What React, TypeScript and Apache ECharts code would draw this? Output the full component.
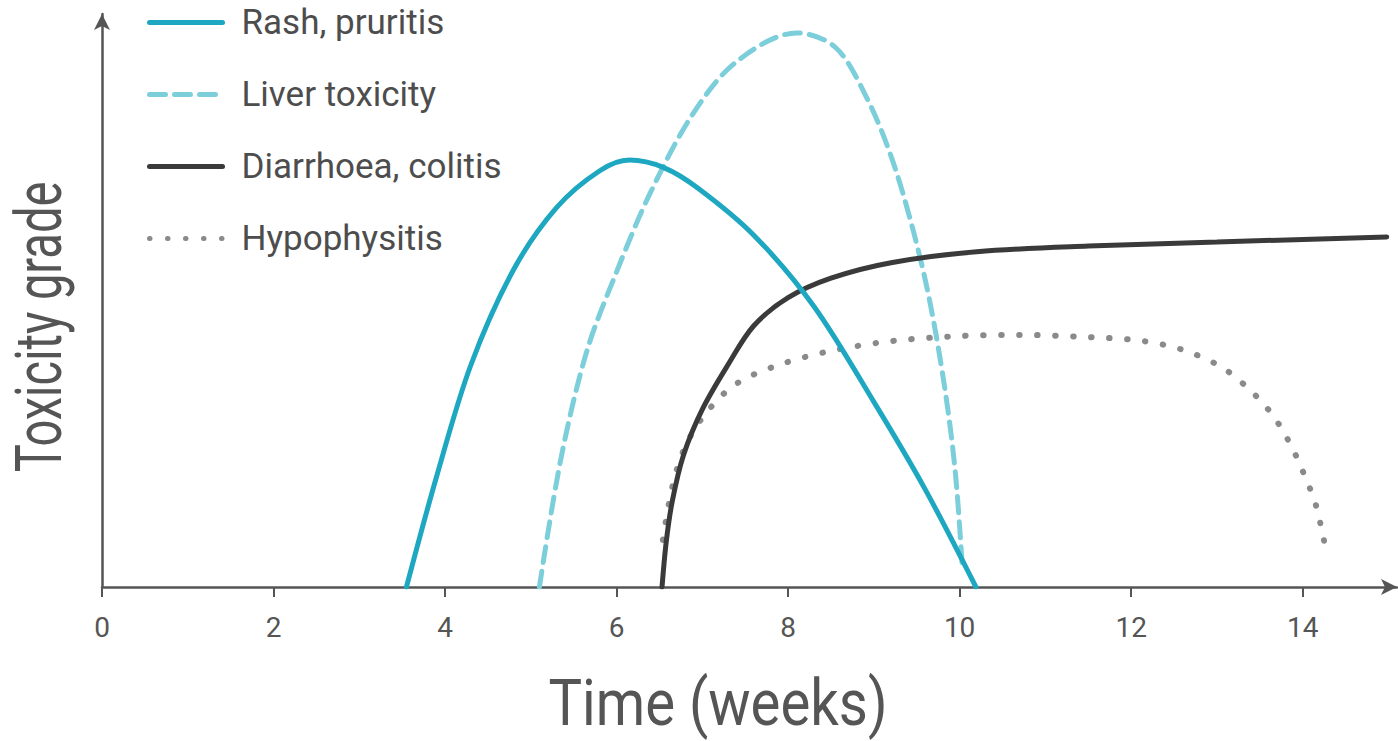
import React, { useEffect, useRef } from "react";
import * as echarts from "echarts";

const weekTicks = [0, 2, 4, 6, 8, 10, 12, 14];
const seriesNames = ["Rash, pruritis", "Liver toxicity", "Diarrhoea, colitis", "Hypophysitis"];
const xTitle = "Time (weeks)";
const yTitle = "Toxicity grade";

const rashWeeks = [3.55, 3.9, 4.3, 4.8, 5.3, 5.8, 6.15, 6.55, 6.95, 7.6, 8.3, 9.0, 9.6, 10.19];
const rashGrade = [0, 19.2, 38.7, 55.4, 66.2, 72.6, 74.5, 73.2, 69.6, 61.4, 49.0, 32.3, 17.0, 0];

const liverWeeks = [5.1, 5.35, 5.65, 6.0, 6.4, 6.9, 7.4, 8.1, 8.55, 8.9, 9.2, 9.45, 9.65, 9.83, 9.95, 10.03];
const liverGrade = [0, 22.3, 41.0, 55.0, 69.0, 82.8, 91.7, 96.7, 94.2, 85.9, 75.2, 62.7, 50.0, 34.4, 20.0, 3.8];

const diarrhoeaWeeks = [6.53, 6.58, 6.65, 6.78, 7.0, 7.3, 7.6, 8.0, 8.5, 9.2, 10.2, 11.5, 13.0, 14.98];
const diarrhoeaGrade = [0, 8.0, 15.0, 23.0, 31.0, 38.8, 45.6, 50.5, 53.9, 56.6, 58.5, 59.5, 60.2, 61.1];

const hypoWeeks = [6.54, 6.65, 6.8, 7.05, 7.4, 7.9, 8.5, 9.2, 10.0, 10.7, 11.5, 12.1, 12.6, 13.05, 13.37, 13.64, 13.85, 14.01, 14.15, 14.24, 14.28];
const hypoGrade = [8.2, 17.5, 24.5, 30.5, 35.5, 38.8, 41.2, 42.9, 43.8, 44.0, 43.6, 43.0, 41.4, 38.4, 34.6, 30.2, 25.1, 19.9, 14.5, 8.7, 5.9];

const pairs = (xs: number[], ys: number[]) => xs.map((x, i) => [x, ys[i]]);

export default function App() {
  const ref = useRef<HTMLDivElement>(null);
  useEffect(() => {
    if (!ref.current) return;
    const chart = echarts.init(ref.current, undefined, { renderer: "svg" });
    const axisColor = "#555555";
    const font = "Roboto";
    const mk = (name: string, data: number[][], color: string, type: any, z: number, width = 5) => ({
      name,
      type: "line",
      data,
      smooth: 0.33,
      showSymbol: false,
      symbol: "none",
      z,
      lineStyle: { color, width, type, cap: "round" },
      itemStyle: { color },
    });
    chart.setOption({
      animation: false,
      backgroundColor: "#ffffff",
      grid: { left: 102, right: 1, top: 14, bottom: 154, containLabel: false },
      legend: {
        orient: "vertical",
        left: 147,
        top: 5,
        padding: 0,
        itemWidth: 73,
        itemHeight: 30,
        itemGap: 37,
        data: seriesNames,
        lineStyle: { width: 5 },
        itemStyle: { opacity: 0, borderWidth: 0 },
        textStyle: { fontSize: 35, fontFamily: font, color: "#4d4d4d", padding: [7, 0, 0, 14] },
      },
      xAxis: {
        type: "value",
        min: 0,
        max: 15.1,
        interval: 2,
        splitLine: { show: false },
        axisLine: {
          show: true,
          onZero: true,
          lineStyle: { color: axisColor, width: 2.5 },
          symbol: ["none", "arrow"],
          symbolSize: [12, 16],
        },
        axisTick: { show: true, length: 10, lineStyle: { color: axisColor, width: 2 } },
        axisLabel: {
          margin: 26,
          fontSize: 28,
          fontFamily: font,
          color: axisColor,
          showMaxLabel: false,
          formatter: (v: number) => (weekTicks.includes(Math.round(v * 1000) / 1000) ? String(v) : ""),
        },
      },
      yAxis: {
        type: "value",
        min: 0,
        max: 100,
        splitLine: { show: false },
        axisTick: { show: false },
        axisLabel: { show: false },
        axisLine: {
          show: true,
          lineStyle: { color: axisColor, width: 2.5 },
          symbol: ["none", "arrow"],
          symbolSize: [12, 16],
        },
      },
      graphic: [
        {
          type: "text",
          x: 718,
          y: 703,
          scaleX: 0.88,
          style: { text: xTitle, fontSize: 64, fontFamily: font, fill: "#555555", align: "center", verticalAlign: "middle" },
        },
        {
          type: "text",
          x: 39,
          y: 327,
          rotation: Math.PI / 2,
          scaleX: 0.735,
          style: { text: yTitle, fontSize: 64, fontFamily: font, fill: "#555555", align: "center", verticalAlign: "middle" },
        },
      ],
      series: [
        mk(seriesNames[1], pairs(liverWeeks, liverGrade), "#7ccfda", [16, 9], 2),
        mk(seriesNames[3], pairs(hypoWeeks, hypoGrade), "#8a8a8a", [0.5, 17.5], 3, 6),
        mk(seriesNames[2], pairs(diarrhoeaWeeks, diarrhoeaGrade), "#3a3a3a", "solid", 4),
        mk(seriesNames[0], pairs(rashWeeks, rashGrade), "#1ea7c0", "solid", 5),
      ],
    });
    return () => chart.dispose();
  }, []);
  return <div ref={ref} style={{ position: "absolute", left: 0, top: 0, width: 1398, height: 741 }} />;
}
